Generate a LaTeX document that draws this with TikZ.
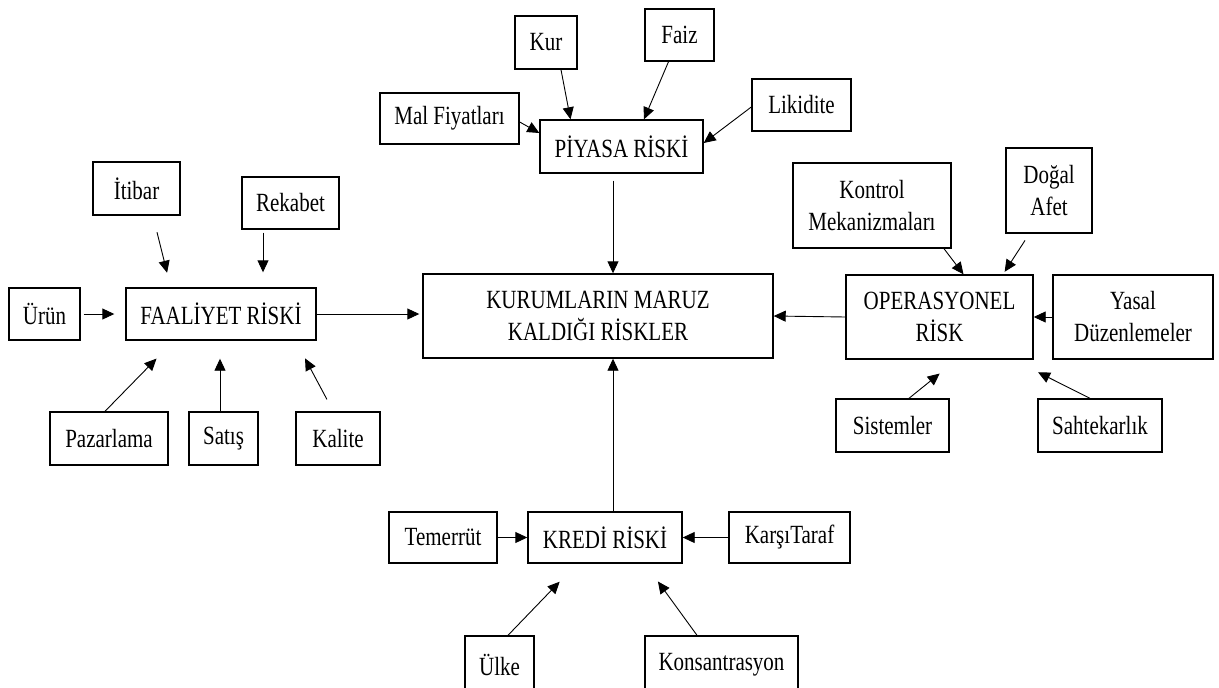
\documentclass[tikz,border=0pt]{standalone}
\usepackage{fontspec}
\setmainfont{Liberation Serif}
\usepackage{graphicx}
\usepackage{tikz}
\usetikzlibrary{arrows.meta, positioning}
% text in the boxes is set a little taller than wide
\newcommand{\tallt}[1]{\scalebox{1}[1.25]{#1}}

\begin{document}
\begin{tikzpicture}[x=1pt, y=-1pt,
    riskbox/.style={rectangle, draw=black, line width=1.4pt,
        align=center, inner sep=0pt, minimum height=53pt,
        font=\fontsize{21}{32}\selectfont},
    arrow/.style={-{Triangle[length=12pt,width=11pt]}, line width=0.9pt}
]
\useasboundingbox (0,0) rectangle (1219,688);
% central box
\node[riskbox, minimum width=350pt, minimum height=84pt] (kurum) at (598,316)
    {\tallt{KURUMLARIN MARUZ}\\\tallt{KALDIĞI RİSKLER}};
% market risk and its sources
\node[riskbox, minimum width=163pt] (piyasa) at (621.5,146.5) {\tallt{PİYASA RİSKİ}};
\node[riskbox, minimum width=62pt]  (kur)    at (546,42.5)    {\tallt{Kur}};
\node[riskbox, minimum width=69pt, minimum height=52pt] (faiz) at (679.5,35) {\tallt{Faiz}};
\node[riskbox, minimum width=139pt, minimum height=51pt] (malfiyat) at (449.5,118.5)
    {\tallt{Mal Fiyatları}};
\node[riskbox, minimum width=99pt, minimum height=52pt] (likidite) at (801.5,105)
    {\tallt{Likidite}};
% activity risk and its sources
\node[riskbox, minimum width=190pt, minimum height=52pt] (faaliyet) at (221,314)
    {\tallt{FAALİYET RİSKİ}};
\node[riskbox, minimum width=87pt]  (itibar)  at (136.5,188.5) {\tallt{İtibar}};
\node[riskbox, minimum width=97pt, minimum height=52pt] (rekabet) at (290.5,203) {\tallt{Rekabet}};
\node[riskbox, minimum width=71pt, minimum height=52pt] (urun) at (44.5,314) {\tallt{Ürün}};
\node[riskbox, minimum width=118pt] (pazarlama) at (109,438.5) {\tallt{Pazarlama}};
\node[riskbox, minimum width=69pt]  (satis)   at (223.5,438.5) {\tallt{Satış}};
\node[riskbox, minimum width=84pt]  (kalite)  at (338,438.5)   {\tallt{Kalite}};
% operational risk and its sources
\node[riskbox, minimum width=187pt, minimum height=84pt] (operasyonel) at (939.5,317)
    {\tallt{OPERASYONEL}\\\tallt{RİSK}};
\node[riskbox, minimum width=160pt, minimum height=84pt] (yasal) at (1133,317)
    {\tallt{Yasal}\\\tallt{Düzenlemeler}};
\node[riskbox, minimum width=158pt, minimum height=85pt] (kontrol) at (872,205.5)
    {\tallt{Kontrol}\\\tallt{Mekanizmaları}};
\node[riskbox, minimum width=86pt, minimum height=85pt] (dogal) at (1049,190.5)
    {\tallt{Doğal}\\\tallt{Afet}};
\node[riskbox, minimum width=113pt] (sistemler)   at (892.5,425.5) {\tallt{Sistemler}};
\node[riskbox, minimum width=124pt] (sahtekarlik) at (1100,425.5)  {\tallt{Sahtekarlık}};
% credit risk and its sources
\node[riskbox, minimum width=154pt, minimum height=51pt] (kredi) at (605,537.5)
    {\tallt{KREDİ RİSKİ}};
\node[riskbox, minimum width=108pt, minimum height=51pt] (temerrut) at (443,537.5)
    {\tallt{Temerrüt}};
\node[riskbox, minimum width=121pt, minimum height=51pt] (karsitaraf) at (789.5,537.5)
    {\tallt{KarşıTaraf}};
\node[riskbox, minimum width=69pt, minimum height=58pt]  (ulke) at (499.5,665) {\tallt{Ülke}};
\node[riskbox, minimum width=153pt, minimum height=58pt] (konsantrasyon) at (721.5,665)
    {\tallt{Konsantrasyon}};
% arrows into market risk
\draw[arrow] ([xshift=15pt]kur.south) -- ([xshift=-51pt]piyasa.north);
\draw[arrow] ([xshift=-11pt]faiz.south) -- ([xshift=22.5pt]piyasa.north);
\draw[arrow] ([yshift=-3.5pt]malfiyat.east) -- ([yshift=13.5pt]piyasa.west);
\draw[arrow] ([yshift=-2pt]likidite.west) -- ([yshift=3.5pt]piyasa.east);
\draw[arrow, shorten <=7pt] ([xshift=-8.5pt]piyasa.south) -- ([xshift=15pt]kurum.north);
% arrows into activity risk
\draw[arrow, shorten <=17pt, shorten >=15pt]
    ([xshift=16.4pt]itibar.south) -- ([xshift=-50.3pt]faaliyet.north);
\draw[arrow, shorten <=3pt, shorten >=15pt]
    ([xshift=-27.5pt]rekabet.south) -- ([xshift=42pt]faaliyet.north);
\draw[arrow, shorten <=3pt, shorten >=11pt] (urun.east) -- (faaliyet.west);
\draw[arrow, shorten >=25pt]
    ([xshift=-4pt]pazarlama.north) -- ([xshift=-47pt]faaliyet.south);
\draw[arrow, shorten >=18pt]
    ([xshift=-3.5pt]satis.north) -- ([xshift=-1pt]faaliyet.south);
\draw[arrow, shorten <=13.5pt, shorten >=20pt]
    ([xshift=-4.7pt]kalite.north) -- ([xshift=74.6pt]faaliyet.south);
\draw[arrow, shorten >=3pt] (faaliyet.east) -- ([yshift=2pt]kurum.west);
% arrows into operational risk
\draw[arrow] ([xshift=72pt]kontrol.south) -- ([xshift=24pt]operasyonel.north);
\draw[arrow, shorten <=8pt, shorten >=3pt]
    ([xshift=-19.6pt]dogal.south) -- ([xshift=63.5pt]operasyonel.north);
\draw[arrow] (yasal.west) -- (operasyonel.east);
\draw[arrow, shorten >=22pt]
    ([xshift=16.5pt]sistemler.north) -- ([xshift=17.3pt]operasyonel.south);
\draw[arrow, shorten >=28pt]
    ([xshift=-10pt]sahtekarlik.north) -- ([xshift=73.5pt]operasyonel.south);
\draw[arrow] (operasyonel.west) -- (kurum.east);
% arrows into credit risk
\draw[arrow] (temerrut.east) -- (kredi.west);
\draw[arrow] (karsitaraf.west) -- (kredi.east);
\draw[arrow, shorten >=25pt]
    ([xshift=8.5pt]ulke.north) -- ([xshift=-28pt]kredi.south);
\draw[arrow, shorten >=22pt]
    ([xshift=-24.5pt]konsantrasyon.north) -- ([xshift=40pt]kredi.south);
\draw[arrow] ([xshift=8pt]kredi.north) -- ([xshift=15pt]kurum.south);
\end{tikzpicture}
\end{document}
